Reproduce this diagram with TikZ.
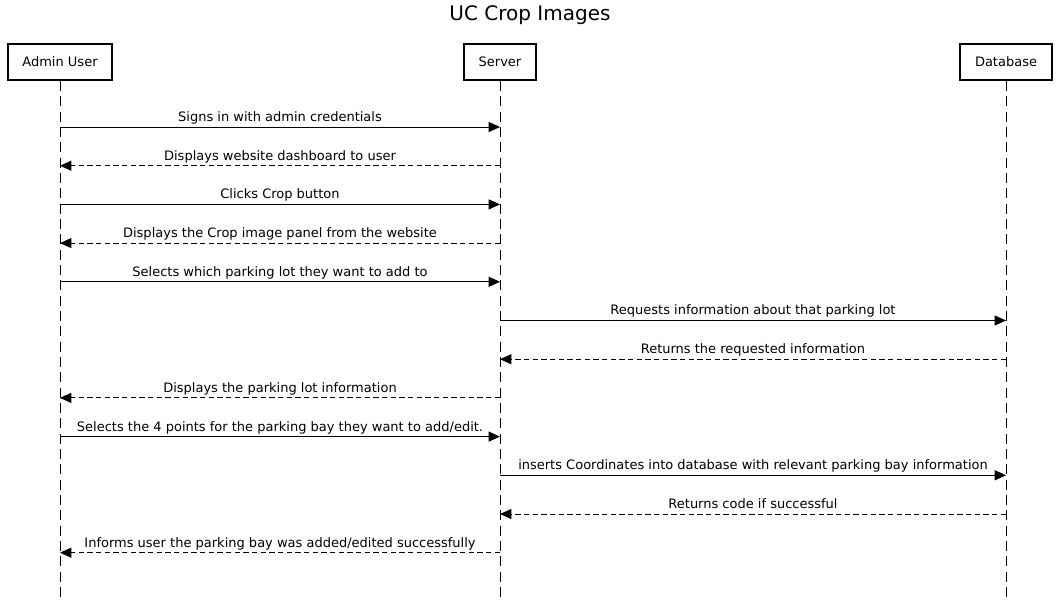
\documentclass[tikz,border=0pt]{standalone}
\usepackage{fontspec}
\setmainfont{DejaVu Sans}
\usetikzlibrary{positioning,arrows.meta}

\begin{document}
\begin{tikzpicture}[x=0.75pt, y=-0.75pt, >={Triangle[length=8.5pt,width=7.5pt]},
    actor/.style={draw, line width=1.5pt, minimum height=27pt, inner xsep=11pt, font=\fontsize{9.75}{11}\selectfont},
    life/.style={draw, line width=0.75pt, dash pattern=on 7.5pt off 4pt},
    msg/.style={->, line width=0.75pt},
    reply/.style={->, line width=0.75pt, dash pattern=on 4pt off 2.5pt},
    lbl/.style={above, inner sep=1.5pt, text depth=2.3pt, font=\fontsize{9.75}{11}\selectfont}]

\useasboundingbox (0,0) rectangle (1059,600);

% Title
\node[font=\fontsize{15}{18}\selectfont] (title) at (530,15) {UC Crop Images};

% Participants
\node[actor] (admin) at (60,62) {Admin User};
\node[actor] (server) at (500,62) {Server};
\node[actor] (db) at (1006,62) {Database};

% Lifelines
\coordinate (adminend) at (60,600);
\coordinate (serverend) at (500,600);
\coordinate (dbend) at (1006,600);
\path[life] (admin) -- (adminend)
            (server) -- (serverend)
            (db) -- (dbend);

% Points on the lifelines
\foreach \i in {1,...,12} {
  \coordinate (a\i) at (60,88.3+38.7*\i);
  \coordinate (s\i) at (500,88.3+38.7*\i);
  \coordinate (d\i) at (1006,88.3+38.7*\i);
}

% Messages
\draw[msg] (a1) -- node[lbl] {Signs in with admin credentials} (s1);
\draw[reply] (s2) -- node[lbl] {Displays website dashboard to user} (a2);
\draw[msg] (a3) -- node[lbl] {Clicks Crop button} (s3);
\draw[reply] (s4) -- node[lbl] {Displays the Crop image panel from the website} (a4);
\draw[msg] (a5) -- node[lbl] {Selects which parking lot they want to add to} (s5);
\draw[msg] (s6) -- node[lbl] {Requests information about that parking lot} (d6);
\draw[reply] (d7) -- node[lbl] {Returns the requested information} (s7);
\draw[reply] (s8) -- node[lbl] {Displays the parking lot information} (a8);
\draw[msg] (a9) -- node[lbl] {Selects the 4 points for the parking bay they want to add/edit.} (s9);
\draw[msg] (s10) -- node[lbl] {inserts Coordinates into database with relevant parking bay information} (d10);
\draw[reply] (d11) -- node[lbl] {Returns code if successful} (s11);
\draw[reply] (s12) -- node[lbl] {Informs user the parking bay was added/edited successfully} (a12);

\end{tikzpicture}
\end{document}
